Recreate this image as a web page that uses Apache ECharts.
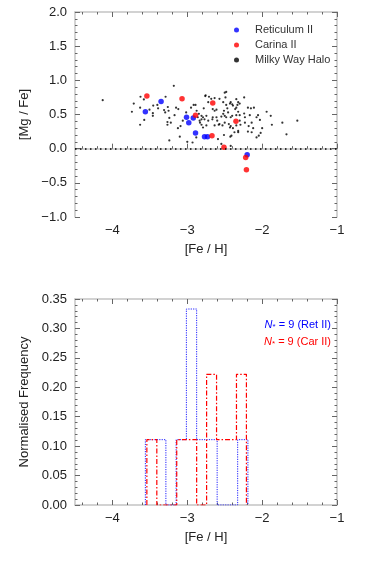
<!DOCTYPE html>
<html><head><meta charset="utf-8">
<script src="https://cdn.jsdelivr.net/npm/echarts@6/dist/echarts.min.js"></script>
<style>html,body{margin:0;padding:0;background:#fff}#c{width:374px;height:561px}</style>
</head><body><div id="c"></div>
<script>
// ---- Data ----
const retX = [-3.56,-3.35,-3.01,-2.98,-2.92,-2.89,-2.77,-2.73,-2.20];
const retY = [0.54,0.69,0.46,0.38,0.45,0.23,0.175,0.175,-0.09];
const carX = [-3.54,-3.07,-2.89,-2.66,-2.67,-2.51,-2.35,-2.22,-2.21];
const carY = [0.77,0.73,0.49,0.67,0.19,0.02,0.40,-0.13,-0.31];
const mwX = [-4.13,-3.625,-3.715,-3.74,-3.63,-3.505,-3.455,-3.46,-3.46,-3.575,-3.63,-3.40,-3.39,-3.29,-3.31,-3.295,-3.26,-3.25,-3.265,-3.265,-3.24,
  -3.18,-3.15,-3.12,-3.17,-3.24,-3.22,-3.125,-3.09,-3.06,-3.015,-2.915,-2.89,-2.95,-2.875,-2.86,-2.845,-2.81,-2.83,-2.81,-2.76,-2.72,-2.78,-2.745,-2.77,-2.72,-2.745,-2.79,
  -2.68,-2.635,-2.61,-2.66,-2.665,-2.61,-2.60,-2.58,-2.635,-2.51,-2.50,-2.48,-2.49,-2.52,-2.48,-2.465,-2.51,-2.455,-2.42,-2.39,-2.36,-2.33,-2.42,-2.40,-2.445,-2.42,-2.39,
  -2.345,-2.32,-2.41,-2.42,-2.545,-3.00,-3.10,-2.59,-2.345,-2.24,-2.32,-2.345,-2.19,-2.15,-2.32,-2.345,-2.30,-2.24,-2.23,-2.165,-2.055,-2.075,-1.94,-1.885,-2.03,-2.30,
  -2.29,-2.23,-2.14,-2.18,-2.12,-2.00,-1.87,-1.73,-1.53,-2.32,-2.19,-2.14,-2.02,-2.045,-2.075,-1.675,-2.93,-2.88,-2.425,-2.755,-2.71,-2.57,-2.43,-2.40,-2.30,-2.52,-2.50,
  -2.545,-2.48,-2.66,-2.635,-2.81,-2.79,-2.835,-2.57,-2.53,-2.50,-2.43,-2.37,-2.11,-3.58];
const mwY = [0.71,0.76,0.66,0.54,0.60,0.57,0.63,0.52,0.48,0.42,0.35,0.64,0.59,0.76,0.565,0.53,0.61,0.555,0.39,0.35,0.12,
  0.92,0.60,0.58,0.49,0.45,0.38,0.30,0.33,0.41,0.53,0.64,0.64,0.60,0.555,0.46,0.51,0.48,0.38,0.35,0.77,0.68,0.59,0.48,0.43,0.41,0.34,0.31,
  0.73,0.74,0.57,0.46,0.43,0.46,0.41,0.35,0.34,0.20,0.82,0.83,0.75,0.68,0.64,0.59,0.555,0.53,0.68,0.63,0.58,0.64,0.46,0.48,0.36,0.33,0.30,
  0.34,0.26,0.19,0.04,0.07,0.10,0.175,0.14,0.725,0.75,0.68,0.60,0.60,0.59,0.54,0.49,0.49,0.515,0.46,0.49,0.49,0.46,0.54,0.48,0.42,0.41,
  0.35,0.38,0.38,0.33,0.30,0.30,0.35,0.38,0.41,0.24,0.25,0.24,0.23,0.19,0.165,0.21,0.09,0.165,0.175,0.78,0.76,0.73,0.66,0.65,0.66,0.51,0.48,
  0.47,0.46,0.58,0.555,0.43,0.46,0.41,0.36,0.34,0.38,0.31,0.24,0.60,0.72];
// Histograms: bin edges and normalised frequencies
const retEdges = [-3.56,-3.423,-3.286,-3.149,-3.012,-2.875,-2.738,-2.601,-2.464,-2.327,-2.19];
const retFreq  = [0.111,0.111,0,0.111,0.333,0.111,0.111,0,0,0.111];
const carEdges = [-3.54,-3.407,-3.274,-3.141,-3.008,-2.875,-2.742,-2.609,-2.476,-2.343,-2.21];
const carFreq  = [0.111,0,0,0.111,0.111,0,0.222,0.111,0.111,0.222];
// Axes
const xMajorTicks = [-4,-3,-2,-1];
const xMinorTicks = [-4.4,-4.2,-3.8,-3.6,-3.4,-3.2,-2.8,-2.6,-2.4,-2.2,-1.8,-1.6,-1.4,-1.2];
const xRange = [-4.5,-1];
const yTopRange = [-1,2], yTopStep = 0.5;
const yBotRange = [0,0.35], yBotStep = 0.05;

// ---- Chart ----
const FONT = '"Liberation Sans", Arial, sans-serif';
const FRAME = '#c4c4c4', TICK = '#666', TXT = '#222';
const fmt = d => v => (v < 0 ? '\u2212' : '') + Math.abs(v).toFixed(d);

function stepPoints(edges, freq) {
  const pts = [[edges[0], 0]];
  for (let i = 0; i < freq.length; i++) {
    pts.push([edges[i], freq[i]]);
    pts.push([edges[i+1], freq[i]]);
  }
  pts.push([edges[edges.length-1], 0]);
  return pts;
}

function xAxesFor(g) {
  const base = {gridIndex: g, type: 'value', min: xRange[0], max: xRange[1], splitLine: {show: false}};
  return [
    Object.assign({}, base, {position: 'bottom',
      axisLine: {show: true, lineStyle: {color: FRAME, width: 1.5}},
      axisTick: {show: true, inside: true, length: 5, customValues: xMajorTicks, lineStyle: {color: TICK}},
      axisLabel: {show: true, customValues: xMajorTicks, formatter: fmt(0), margin: 7, fontSize: 13, fontFamily: FONT, color: TXT},
      name: '[Fe / H]', nameLocation: 'middle', nameGap: 26,
      nameTextStyle: {fontSize: 13, fontFamily: FONT, color: TXT}}),
    Object.assign({}, base, {position: 'bottom', axisLine: {show: false},
      axisTick: {show: true, inside: true, length: 2.5, customValues: xMinorTicks, lineStyle: {color: TICK}},
      axisLabel: {show: false}}),
    Object.assign({}, base, {position: 'top',
      axisLine: {show: true, lineStyle: {color: FRAME, width: 1.5}},
      axisTick: {show: true, inside: true, length: 5, customValues: xMajorTicks, lineStyle: {color: TICK}},
      axisLabel: {show: false}}),
    Object.assign({}, base, {position: 'top', axisLine: {show: false},
      axisTick: {show: true, inside: true, length: 2.5, customValues: xMinorTicks, lineStyle: {color: TICK}},
      axisLabel: {show: false}})
  ];
}
function yAxesFor(g, range, step, dec, name) {
  const base = {gridIndex: g, type: 'value', min: range[0], max: range[1], interval: step, splitLine: {show: false},
    axisLine: {show: true, lineStyle: {color: FRAME, width: 1.5}},
    axisTick: {show: true, inside: true, length: 5, lineStyle: {color: TICK}},
    minorTick: {show: true, splitNumber: 5, length: 2.5, lineStyle: {color: TICK}}};
  return [
    Object.assign({}, base, {position: 'left',
      axisLabel: {show: true, formatter: fmt(dec), margin: 8, fontSize: 13, fontFamily: FONT, color: TXT},
      name: name, nameLocation: 'middle', nameGap: 38, nameRotate: 90,
      nameTextStyle: {fontSize: 13, fontFamily: FONT, color: TXT}}),
    Object.assign({}, base, {position: 'right', axisLabel: {show: false}})
  ];
}

const chart = echarts.init(document.getElementById('c'), null, {renderer: 'canvas'});
const zip = (a, b) => a.map((v, i) => [v, b[i]]);

chart.setOption({
  animation: false,
  backgroundColor: '#fff',
  grid: [
    {left: 75, right: 37, top: 12, height: 205, outerBoundsMode: 'none', containLabel: false},
    {left: 75, right: 37, top: 299, height: 206, outerBoundsMode: 'none', containLabel: false}
  ],
  xAxis: xAxesFor(0).concat(xAxesFor(1)),
  yAxis: yAxesFor(0, yTopRange, yTopStep, 1, '[Mg / Fe]').concat(yAxesFor(1, yBotRange, yBotStep, 2, 'Normalised Frequency')),
  legend: {
    data: ['Reticulum II', 'Carina II', 'Milky Way Halo'],
    orient: 'vertical', left: 229, top: 19, itemWidth: 27, itemHeight: 5, itemGap: 3,
    icon: 'circle', selectedMode: false,
    textStyle: {fontSize: 11, fontFamily: FONT, color: '#333', lineHeight: 12}
  },
  graphic: [
    {type: 'text', right: 43, top: 319, style: {
      text: '{n|N}{s|*} = 9 (Ret II)', fill: '#0000ff', font: '11px ' + FONT,
      rich: {n: {fontStyle: 'italic', fontSize: 11, fontFamily: FONT, fill: '#0000ff'},
             s: {fontSize: 8, fontFamily: FONT, fill: '#0000ff', padding: [5, 0, 0, 0]}}}},
    {type: 'text', right: 43, top: 336, style: {
      text: '{n|N}{s|*} = 9 (Car II)', fill: '#ff0000', font: '11px ' + FONT,
      rich: {n: {fontStyle: 'italic', fontSize: 11, fontFamily: FONT, fill: '#ff0000'},
             s: {fontSize: 8, fontFamily: FONT, fill: '#ff0000', padding: [5, 0, 0, 0]}}}}
  ],
  series: [
    {name: 'Milky Way Halo', type: 'scatter', xAxisIndex: 0, yAxisIndex: 0, data: zip(mwX, mwY),
      symbolSize: 2.2, itemStyle: {color: '#000'},
      markLine: {silent: true, symbol: 'none', label: {show: false},
        lineStyle: {color: '#000', type: [1.5, 3.5], width: 1.5}, data: [{yAxis: 0}]}},
    {name: 'Reticulum II', type: 'scatter', xAxisIndex: 0, yAxisIndex: 0, data: zip(retX, retY),
      symbolSize: 5.5, itemStyle: {color: '#0000ff'}},
    {name: 'Carina II', type: 'scatter', xAxisIndex: 0, yAxisIndex: 0, data: zip(carX, carY),
      symbolSize: 5.5, itemStyle: {color: '#ff0000'}},
    {name: 'Ret II hist', type: 'line', xAxisIndex: 4, yAxisIndex: 2, data: stepPoints(retEdges, retFreq),
      symbol: 'none', lineStyle: {color: '#2020ff', width: 1, type: [1.2, 1.2]}},
    {name: 'Car II hist', type: 'line', xAxisIndex: 4, yAxisIndex: 2, data: stepPoints(carEdges, carFreq),
      symbol: 'none', lineStyle: {color: '#ff0000', width: 1.2, type: [5, 2, 1.5, 2]}}
  ]
});
</script></body></html>
